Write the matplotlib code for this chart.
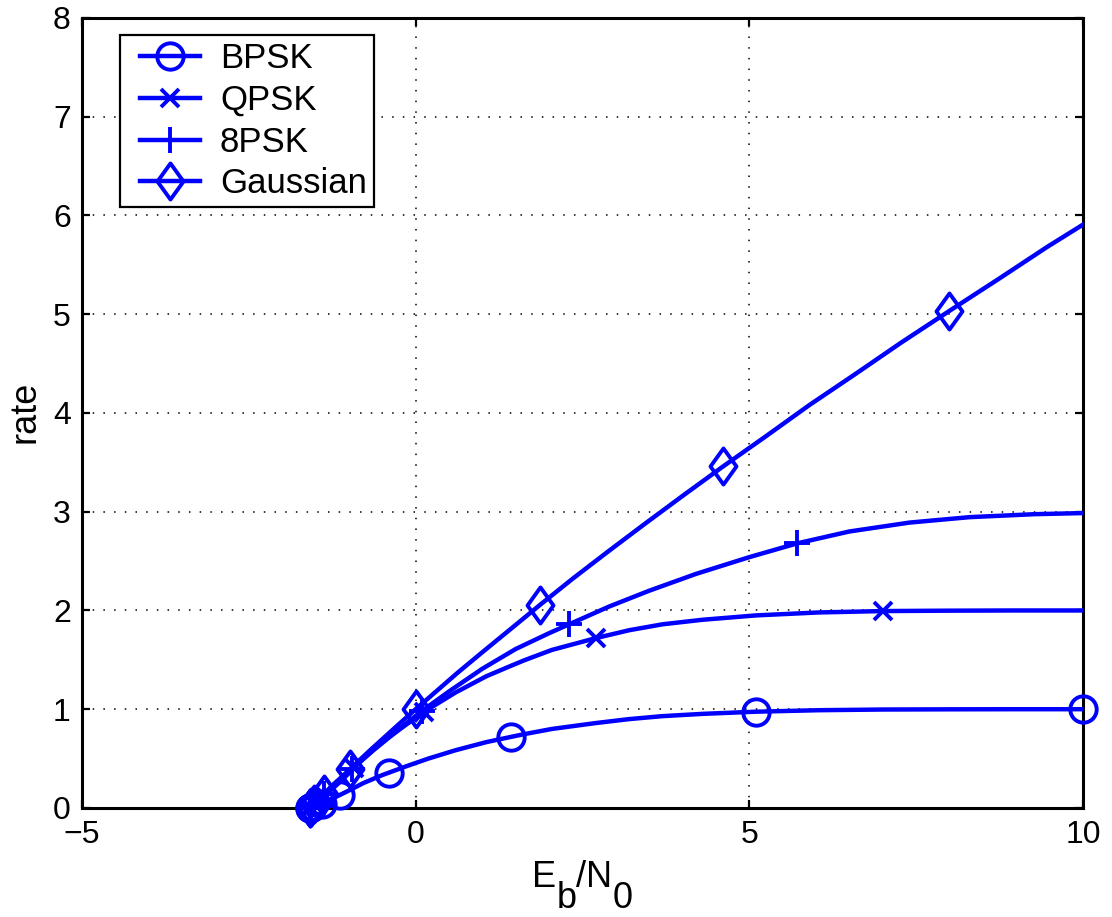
import matplotlib
matplotlib.use("Agg")
import matplotlib.pyplot as plt
from matplotlib.lines import Line2D
from matplotlib.path import Path
from matplotlib.transforms import IdentityTransform
from matplotlib.legend_handler import HandlerLine2D

# ---- data ----
bpsk_line_x = [-1.59, -1.58, -1.55, -1.41, -1.14, -0.94, -0.79, -0.50, -0.15, 0.19, 0.60, 1.06, 1.43, 1.63, 2.04, 2.70, 3.20, 3.70, 4.30, 5.10, 6.04, 7.01, 8.0, 9.0, 10.0]
bpsk_line_y = [0.0014, 0.0046, 0.0143, 0.044, 0.13, 0.197, 0.25, 0.333, 0.42, 0.50, 0.585, 0.667, 0.72, 0.748, 0.80, 0.86, 0.90, 0.93, 0.953, 0.975, 0.99, 0.997, 0.999, 1.0, 1.0]
bpsk_mark_x = [-1.59, -1.58, -1.55, -1.41, -1.14, -0.40, 1.43, 5.10, 10.0]
bpsk_mark_y = [0.0014, 0.0046, 0.0143, 0.044, 0.13, 0.35, 0.72, 0.975, 1.0]

qpsk_line_x = [-1.59, -1.58, -1.53, -1.36, -1.14, -0.94, -0.79, -0.50, -0.15, 0.19, 0.60, 1.06, 1.43, 1.63, 2.04, 2.70, 3.20, 3.70, 4.30, 5.10, 6.04, 7.01, 8.0, 9.0, 10.0]
qpsk_line_y = [0.0023, 0.0072, 0.045, 0.125, 0.26, 0.394, 0.50, 0.666, 0.84, 1.00, 1.17, 1.334, 1.44, 1.496, 1.60, 1.72, 1.80, 1.86, 1.906, 1.95, 1.98, 1.994, 1.998, 2.0, 2.0]
qpsk_mark_x = [-1.59, -1.59, -1.58, -1.53, -1.36, -0.92, 0.13, 2.71, 7.01]
qpsk_mark_y = [0.0007, 0.0023, 0.0072, 0.045, 0.125, 0.40, 0.97, 1.72, 1.994]

psk8_line_x = [-1.59, -1.57, -1.52, -1.38, -1.19, -0.95, -0.64, -0.19, 0.09, 0.50, 1.00, 1.50, 2.00, 2.30, 2.90, 3.50, 4.20, 5.00, 5.72, 6.50, 7.40, 8.30, 9.27, 10.24]
psk8_line_y = [0.0014, 0.0144, 0.045, 0.1375, 0.262, 0.395, 0.58, 0.83, 0.98, 1.18, 1.41, 1.61, 1.77, 1.86, 2.04, 2.20, 2.37, 2.54, 2.68, 2.80, 2.89, 2.945, 2.975, 2.99]
psk8_mark_x = [-1.59, -1.59, -1.57, -1.52, -1.38, -0.95, 0.09, 2.30, 5.72]
psk8_mark_y = [0.0014, 0.0046, 0.0144, 0.045, 0.1375, 0.395, 0.98, 1.86, 2.68]

gauss_line_x = [-1.59, -1.57, -1.52, -1.38, -1.19, -0.98, -0.68, -0.26, 0.0, 0.30, 0.63, 1.01, 1.42, 1.87, 2.35, 2.87, 3.42, 4.00, 4.61, 5.24, 5.90, 6.58, 7.27, 7.99, 8.72, 9.46, 9.84, 10.22]
gauss_line_y = [0.0014, 0.0144, 0.045, 0.1375, 0.262, 0.396, 0.586, 0.843, 1.0, 1.176, 1.37, 1.583, 1.81, 2.06, 2.32, 2.59, 2.87, 3.16, 3.46, 3.76, 4.08, 4.39, 4.71, 5.03, 5.35, 5.68, 5.84, 6.00]
gauss_mark_x = [-1.59, -1.59, -1.57, -1.52, -1.38, -0.98, 0.0, 1.87, 4.61, 7.99]
gauss_mark_y = [0.0014, 0.0046, 0.0144, 0.045, 0.1375, 0.396, 1.0, 2.06, 3.46, 5.03]

labels = ["BPSK", "QPSK", "8PSK", "Gaussian"]
x_ticks = [-5, 0, 5, 10]
x_tick_labels = ['\u22125', '0', '5', '10']
y_ticks = [0, 1, 2, 3, 4, 5, 6, 7, 8]

# ---- styling ----
plt.rcParams['font.family'] = ['Liberation Sans', 'DejaVu Sans']
FS_TICK = 23
FS_LAB = 26
FS_LEG = 25
BLUE = '#0000ff'
LW = 3.2
MEW = 2.8

# MATLAB-like diamond (taller than wide)
diamond = Path([(0, 1), (0.72, 0), (0, -1), (-0.72, 0), (0, 1)],
               [Path.MOVETO, Path.LINETO, Path.LINETO, Path.LINETO, Path.CLOSEPOLY])

fig = plt.figure(figsize=(11.12, 9.17), dpi=100)
ax = fig.add_axes([0.0737, 0.1189, 0.9002, 0.8615])

series = [
    (bpsk_line_x, bpsk_line_y, bpsk_mark_x, bpsk_mark_y, 'o', 19),
    (qpsk_line_x, qpsk_line_y, qpsk_mark_x, qpsk_mark_y, 'x', 12.5),
    (psk8_line_x, psk8_line_y, psk8_mark_x, psk8_mark_y, '+', 19),
    (gauss_line_x, gauss_line_y, gauss_mark_x, gauss_mark_y, diamond, 26),
]

handles = []
for (lx, ly, mx, my, m, ms), lab in zip(series, labels):
    ax.plot(lx, ly, color=BLUE, lw=LW, solid_capstyle='butt',
            solid_joinstyle='round', zorder=3)
    ax.plot(mx, my, linestyle='none', marker=m, ms=ms, mew=MEW,
            mfc='none', mec=BLUE, clip_on=False, zorder=4)
    handles.append(Line2D([], [], color=BLUE, lw=LW, marker=m, ms=ms,
                          mew=MEW, mfc='none', mec=BLUE))

ax.set_xlim(-5, 10)
ax.set_ylim(0, 8)
ax.set_xticks(x_ticks)
ax.set_yticks(y_ticks)
ax.set_xticklabels(x_tick_labels)
ax.tick_params(direction='in', length=6, width=1.6, labelsize=FS_TICK,
               top=True, right=True)
ax.tick_params(axis='x', pad=9)
ax.tick_params(axis='y', pad=8)
ax.grid(True, color='black', linestyle=(0, (1, 6)), linewidth=1.1)
for s in ax.spines.values():
    s.set_linewidth(2.2)

# y label
ax.text(-0.057, 0.501, 'rate', rotation=90, ha='center', va='center',
        fontsize=FS_LAB, transform=ax.transAxes)

leg = ax.legend(handles, labels, loc='upper left',
                bbox_to_anchor=(0.038, 0.978), fontsize=FS_LEG,
                handlelength=2.1, handletextpad=0.58, borderpad=0.2,
                labelspacing=0.25, fancybox=False, framealpha=1,
                edgecolor='black', borderaxespad=0,
                handler_map={Line2D: HandlerLine2D(xpad=0.375)})
leg.get_frame().set_linewidth(1.6)

# x label: E_b/N_0 with full-size, lowered subscripts (MATLAB tex style)
fig.canvas.draw()
renderer = fig.canvas.get_renderer()
pieces = [("E", 0), ("b", -21), ("/N", 0), ("0", -21)]
base_y = 917 - 887
widths = []
for s, dy in pieces:
    t = fig.text(0, 0, s, fontsize=FS_LAB, transform=IdentityTransform())
    widths.append(t.get_window_extent(renderer).width)
    t.remove()
total = sum(widths)
x = 582.5 - total / 2
for (s, dy), w in zip(pieces, widths):
    fig.text(x, base_y + dy, s, fontsize=FS_LAB, ha='left', va='baseline',
             transform=IdentityTransform())
    x += w

fig.savefig('out.png', dpi=100)
